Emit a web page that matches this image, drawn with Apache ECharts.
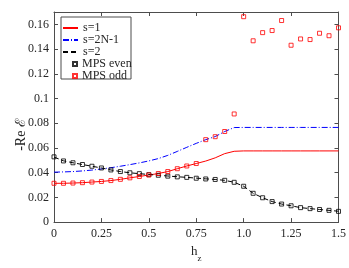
<!DOCTYPE html>
<html>
<head>
<meta charset="utf-8">
<script src="https://cdn.jsdelivr.net/npm/echarts@6/dist/echarts.min.js"></script>
<style>html,body{margin:0;padding:0;background:#fff}#c{width:349px;height:268px}</style>
</head>
<body>
<div id="c"></div>
<script>
// h_z grid shared by all series
var hz = [0,0.05,0.1,0.15,0.2,0.25,0.3,0.35,0.4,0.45,0.5,0.55,0.6,0.65,0.7,0.75,0.8,0.85,0.9,0.95,1.0,1.05,1.1,1.15,1.2,1.25,1.3,1.35,1.4,1.45,1.5];
// s=1 (red solid)
var s1 = [0.0314,0.0314,0.0316,0.0319,0.0324,0.0329,0.0336,0.0346,0.0358,0.0369,0.0381,0.0393,0.0409,0.0432,0.0454,0.0474,0.0494,0.0520,0.0554,0.0573,0.0576,0.0576,0.0576,0.0576,0.0576,0.0576,0.0576,0.0576,0.0576,0.0576,0.0576];
// s=2N-1 (blue dash-dot)
var s2N1 = [0.0404,0.0406,0.0409,0.0414,0.0421,0.0430,0.0440,0.0452,0.0465,0.0479,0.0495,0.0514,0.0540,0.0572,0.0605,0.0637,0.0667,0.0692,0.0733,0.0765,0.0766,0.0766,0.0766,0.0766,0.0766,0.0766,0.0766,0.0766,0.0766,0.0766,0.0766];
// s=2 (black dashed)
var s2 = [0.0526,0.0496,0.0480,0.0466,0.0452,0.0438,0.0422,0.0409,0.0399,0.0392,0.0385,0.0379,0.0373,0.0367,0.0362,0.0356,0.0350,0.0345,0.0338,0.0322,0.0290,0.0233,0.0197,0.0166,0.0146,0.0132,0.0117,0.0109,0.0102,0.0095,0.0088];
// MPS even (black squares)
var mpsEven = [0.0528,0.0495,0.0480,0.0466,0.0452,0.0438,0.0422,0.0409,0.0399,0.0392,0.0384,0.0379,0.0372,0.0366,0.0362,0.0355,0.0349,0.0345,0.0338,0.0322,0.0290,0.0233,0.0197,0.0166,0.0146,0.0132,0.0117,0.0109,0.0102,0.0095,0.0087];
// MPS odd (red squares)
var mpsOdd = [0.0314,0.0314,0.0316,0.0319,0.0324,0.0329,0.0336,0.0346,0.0358,0.0369,0.0381,0.0393,0.0409,0.0432,0.0454,0.0474,0.0667,0.0691,0.0733,0.0875,0.1662,0.1467,0.1533,0.1550,0.1631,0.1431,0.1482,0.1477,0.1528,0.1508,0.1572];
var xTicks = {0:'0',0.25:'0.25',0.5:'0.5',0.75:'0.75',1:'1.0',1.25:'1.25',1.5:'1.5'};
var yName = '-Re ℰ';

function pairs(v){ return hz.map(function(h,i){ return [h, v[i]]; }); }

var FONT = 'Liberation Serif';
var AX = '#4d4d4d';
var TXT = '#262626';
var chart = echarts.init(document.getElementById('c'), null, {renderer:'canvas'});
var hideSym = {color: 'rgba(0,0,0,0)', borderWidth: 0, opacity: 0};
var axisCommon = {
  min: 0,
  axisLine: {show: true, onZero: false, lineStyle: {color: AX, width: 1}},
  axisTick: {show: true, inside: true, length: 4, lineStyle: {color: AX}},
  splitLine: {show: false}
};
var legText = {fontFamily: FONT, fontSize: 12, color: TXT, lineHeight: 12};
chart.setOption({
  animation: false,
  backgroundColor: '#fff',
  grid: {left: 54, right: 7, top: 12, bottom: 35, containLabel: false},
  graphic: [{
    type: 'rect', left: 60.5, top: 16.5, z: 100,
    shape: {width: 70, height: 62},
    style: {fill: '#fff', stroke: AX, lineWidth: 1}
  }, {
    type: 'text', x: 21, y: 135, rotation: Math.PI / 2, z: 100,
    style: {text: yName, fontFamily: FONT, fontSize: 14, fill: TXT, align: 'center', verticalAlign: 'middle'}
  }],
  legend: [
    {
      left: 60, top: 19, orient: 'vertical', z: 110,
      padding: [3, 14, 24, 2], itemGap: 0, itemWidth: 15, itemHeight: 12,
      textStyle: legText,
      data: [
        {name: 's=1', itemStyle: hideSym},
        {name: 's=2N-1', itemStyle: hideSym},
        {name: 's=2', itemStyle: hideSym}
      ]
    },
    {
      left: 72, top: 58, orient: 'vertical', z: 110,
      padding: 0, itemGap: 0, itemWidth: 4, itemHeight: 4,
      textStyle: legText,
      data: [
        {name: 'MPS even', icon: 'rect'},
        {name: 'MPS odd', icon: 'rect'}
      ]
    }
  ],
  xAxis: [
    Object.assign({}, axisCommon, {
      type: 'value', max: 1.5, interval: 0.25, position: 'bottom',
      axisLabel: {fontFamily: FONT, fontSize: 12, color: TXT, margin: 6,
        formatter: function(v){ return xTicks[v] !== undefined ? xTicks[v] : ''; }},
      name: '{a|h}{b|z}', nameLocation: 'middle', nameGap: 17,
      nameTextStyle: {fontFamily: FONT, color: TXT,
        rich: {a: {fontFamily: FONT, fontSize: 13, color: TXT, lineHeight: 14, verticalAlign: 'top'},
               b: {fontFamily: FONT, fontSize: 9, color: TXT, lineHeight: 14, verticalAlign: 'top', padding: [9,0,0,0]}}}
    }),
    Object.assign({}, axisCommon, {
      type: 'value', max: 1.5, interval: 0.25, position: 'top',
      axisLabel: {show: false}
    })
  ],
  yAxis: [
    Object.assign({}, axisCommon, {
      type: 'value', max: 0.17, interval: 0.02, position: 'left',
      axisLabel: {fontFamily: FONT, fontSize: 12, color: TXT, margin: 5, showMaxLabel: false,
        formatter: function(v){ return Math.abs(v - 0.17) < 1e-9 ? '' : String(+v.toFixed(2)); }}
    }),
    Object.assign({}, axisCommon, {
      type: 'value', max: 0.17, interval: 0.02, position: 'right',
      axisLabel: {show: false}
    })
  ],
  series: [
    {name: 's=1', type: 'line', symbol: 'none', data: pairs(s1), z: 3,
     lineStyle: {color: '#ff0000', width: 1}, itemStyle: {color: '#ff0000'}},
    {name: 's=2N-1', type: 'line', symbol: 'none', data: pairs(s2N1), z: 3,
     lineStyle: {color: '#0000ff', width: 1, type: [6, 2, 1, 2]}, itemStyle: {color: '#0000ff'}},
    {name: 's=2', type: 'line', symbol: 'none', data: pairs(s2), z: 3,
     lineStyle: {color: '#000000', width: 1, type: [5, 3]}, itemStyle: {color: '#000000'}},
    {name: 'MPS even', type: 'scatter', symbol: 'rect', symbolSize: 4, data: pairs(mpsEven), z: 4,
     itemStyle: {color: 'rgba(0,0,0,0)', borderColor: '#000000', borderWidth: 1}},
    {name: 'MPS odd', type: 'scatter', symbol: 'rect', symbolSize: 4, data: pairs(mpsOdd), z: 4,
     itemStyle: {color: 'rgba(0,0,0,0)', borderColor: '#ff0000', borderWidth: 1}}
  ]
});
</script>
</body>
</html>
